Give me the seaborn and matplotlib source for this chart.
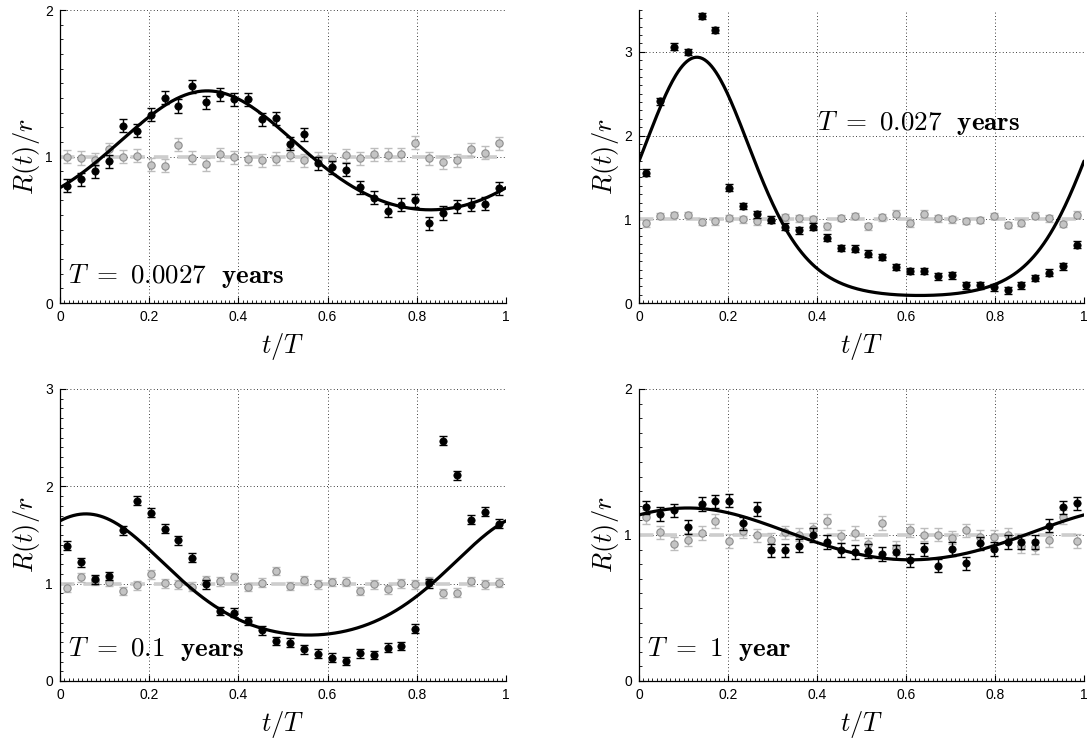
import numpy as np
import pandas as pd
import matplotlib
matplotlib.use("Agg")
import matplotlib.pyplot as plt
from matplotlib.ticker import MultipleLocator, FixedLocator
import seaborn as sns

# ---- data -----------------------------------------------------------------
n_bins = 32
t_bins = (np.arange(n_bins) + 0.5) / n_bins          # bin centres in t/T

period_labels = [r"$T\ =\ 0.0027\ \ \mathbf{years}$",
                 r"$T\ =\ 0.027\ \ \mathbf{years}$",
                 r"$T\ =\ 0.1\ \ \mathbf{years}$",
                 r"$T\ =\ 1\ \ \mathbf{year}$"]

# observed rate ratio R(t)/r per phase bin
obs_0027 = [0.80, 0.845, 0.90, 0.966, 1.21, 1.175, 1.284, 1.40, 1.345, 1.48, 1.37, 1.425,
            1.39, 1.39, 1.255, 1.26, 1.086, 1.152, 0.955, 0.925, 0.909, 0.789, 0.72, 0.63,
            0.67, 0.70, 0.543, 0.614, 0.66, 0.67, 0.677, 0.784]
obs_027 = [1.556, 2.41, 3.06, 3.00, 3.43, 3.26, 1.376, 1.16, 1.061, 0.997, 0.91, 0.87,
           0.91, 0.78, 0.658, 0.65, 0.59, 0.55, 0.43, 0.383, 0.383, 0.319, 0.33, 0.211,
           0.211, 0.187, 0.152, 0.211, 0.30, 0.363, 0.439, 0.698]
obs_01 = [1.392, 1.221, 1.043, 1.078, 1.55, 1.854, 1.728, 1.563, 1.444, 1.266, 0.992, 0.718,
          0.701, 0.616, 0.52, 0.41, 0.393, 0.325, 0.28, 0.239, 0.205, 0.284, 0.267, 0.342,
          0.359, 0.537, 1.002, 2.47, 2.114, 1.656, 1.738, 1.618]
obs_1 = [1.19, 1.145, 1.168, 1.056, 1.213, 1.231, 1.236, 1.079, 1.179, 0.894, 0.894, 0.928,
         0.999, 0.953, 0.896, 0.885, 0.889, 0.871, 0.885, 0.826, 0.901, 0.791, 0.905, 0.805,
         0.942, 0.905, 0.951, 0.953, 0.953, 1.065, 1.19, 1.216]

# reshuffled (null) catalogue
null_0027 = [1.0, 0.99, 0.977, 1.05, 0.998, 1.005, 0.943, 0.936, 1.08, 0.993, 0.948, 1.016,
             0.995, 0.984, 0.975, 0.986, 1.011, 0.973, 0.984, 0.982, 1.007, 0.989, 1.016, 1.011,
             1.016, 1.095, 0.989, 0.961, 0.975, 1.05, 1.027, 1.09]
null_027 = [0.95, 1.04, 1.05, 1.05, 0.97, 0.977, 1.017, 1.00, 0.977, 0.997, 1.025, 1.01,
            1.005, 0.917, 1.017, 1.04, 0.917, 1.025, 1.065, 0.95, 1.065, 1.01, 1.00, 0.98,
            0.99, 1.04, 0.93, 0.96, 1.045, 1.01, 0.945, 1.057]
null_01 = [0.958, 1.067, 1.03, 1.016, 0.924, 0.985, 1.095, 1.002, 0.992, 0.968, 1.037, 1.026,
           1.067, 0.965, 1.009, 1.129, 0.975, 1.033, 0.992, 1.016, 1.019, 0.924, 0.992, 0.941,
           1.002, 0.992, 1.026, 0.90, 0.907, 1.026, 0.992, 1.009]
null_1 = [1.122, 1.019, 0.94, 0.969, 1.015, 1.095, 0.958, 1.026, 0.997, 0.965, 1.019, 1.003,
          1.038, 1.095, 0.99, 1.013, 0.935, 1.083, 0.912, 1.031, 1.003, 1.003, 0.981, 1.031,
          0.985, 0.985, 1.003, 0.924, 0.917, 0.965, 1.122, 0.958]

observed = [obs_0027, obs_027, obs_01, obs_1]
null = [null_0027, null_027, null_01, null_1]

# one-sigma uncertainty of each bin
err_obs = [0.045, 0.04, 0.045, 0.046]
err_null = [0.045, 0.04, 0.045, 0.046]

# fitted log-periodic rate: phase of maximum, maximum and minimum of the fit
fit_peak_t = [0.33, 0.13, 0.058, 0.11]
fit_peak = [1.448, 2.936, 1.717, 1.185]
fit_trough = [0.636, 0.09, 0.472, 0.83]

y_max = [2, 3.5, 3, 2]
y_ticks = [[0, 1, 2], [0, 1, 2, 3], [0, 1, 2, 3], [0, 1, 2]]
x_ticks = [0, 0.2, 0.4, 0.6, 0.8, 1]


def fitted_rate(t, t0, hi, lo):
    c = 0.5 * (np.log(hi) + np.log(lo))
    a = 0.5 * (np.log(hi) - np.log(lo))
    return np.exp(c + a * np.cos(2 * np.pi * (t - t0)))


# ---- style ----------------------------------------------------------------
sns.set_style("white")
plt.rcParams["font.family"] = ["Liberation Sans", "DejaVu Sans"]
plt.rcParams["mathtext.fontset"] = "cm"
plt.rcParams["xtick.direction"] = "in"
plt.rcParams["ytick.direction"] = "in"
plt.rcParams["text.color"] = "black"
plt.rcParams["axes.labelcolor"] = "black"
plt.rcParams["xtick.color"] = "black"
plt.rcParams["ytick.color"] = "black"

W, H = 1087, 738
fig = plt.figure(figsize=(W / 100, H / 100), dpi=100)

# axes rectangles in pixels: left, top, right, bottom
rects_px = [(60, 10, 506, 303), (639, 10, 1084, 303),
            (60, 389, 506, 681), (639, 389, 1084, 681)]
label_pos = [(0.018, 0.068), (0.40, 0.59), (0.018, 0.086), (0.017, 0.086)]

for i in range(4):
    l, t, r, b = rects_px[i]
    ax = fig.add_axes([l / W, 1 - b / H, (r - l) / W, (b - t) / H])

    df = pd.DataFrame({"t": t_bins, "obs": observed[i], "null": null[i]})

    # null reference level
    ax.axhline(1.0, color="#cdcdcd", lw=2.6, ls=(0, (4, 2.5)), zorder=1)

    # null catalogue
    ax.errorbar(df["t"], df["null"], yerr=err_null[i], fmt="none",
                ecolor="#bdbdbd", elinewidth=1.0, capsize=3.2, capthick=1.0, zorder=2)
    sns.scatterplot(data=df, x="t", y="null", ax=ax, s=28, color="#c4c4c4",
                    edgecolor="#8e8e8e", linewidth=0.8, zorder=3, legend=False)

    # fitted rate
    tt = np.linspace(0, 1, 400)
    fit_df = pd.DataFrame({"t": tt, "R": fitted_rate(tt, fit_peak_t[i], fit_peak[i], fit_trough[i])})
    sns.lineplot(data=fit_df, x="t", y="R", ax=ax, color="black", lw=2.3, zorder=4)

    # observed catalogue
    ax.errorbar(df["t"], df["obs"], yerr=err_obs[i], fmt="none",
                ecolor="black", elinewidth=1.0, capsize=3.2, capthick=1.0, zorder=5)
    sns.scatterplot(data=df, x="t", y="obs", ax=ax, s=28, color="black",
                    edgecolor="black", linewidth=0.5, zorder=6, legend=False)

    ax.set_xlim(0, 1)
    ax.set_ylim(0, y_max[i])
    ax.xaxis.set_major_locator(FixedLocator(x_ticks))
    ax.set_xticklabels(["0", "0.2", "0.4", "0.6", "0.8", "1"])
    ax.yaxis.set_major_locator(FixedLocator(y_ticks[i]))
    ax.set_yticklabels([str(v) for v in y_ticks[i]])
    ax.xaxis.set_minor_locator(MultipleLocator(0.01))
    ax.yaxis.set_minor_locator(MultipleLocator(0.1))
    ax.tick_params(which="both", bottom=True, left=True, top=False, right=False)
    ax.tick_params(which="major", length=4, width=0.8, labelsize=10, pad=5,
                   color="black", labelcolor="black")
    ax.tick_params(which="minor", length=2, width=0.6, color="black")

    ax.grid(True, which="major", color="black", lw=0.6, ls=(0, (1, 3)))
    ax.set_axisbelow(True)
    for side in ("top", "right"):
        ax.spines[side].set_visible(False)
    for side in ("left", "bottom"):
        ax.spines[side].set_color("black")
        ax.spines[side].set_linewidth(0.9)
    ax.axvline(1.0, color="black", lw=0.6, ls=(0, (1, 3)), zorder=0)

    ax.set_xlabel(r"$t/T$", fontsize=19)
    ax.set_ylabel(r"$R(t)/r$", fontsize=19)
    ax.xaxis.set_label_coords(0.5, -0.095)
    ax.yaxis.set_label_coords(-0.04, 0.5)

    ax.text(label_pos[i][0], label_pos[i][1], period_labels[i], transform=ax.transAxes,
            fontsize=19.5, ha="left", va="baseline", zorder=7)

fig.savefig("out.png", dpi=100)
